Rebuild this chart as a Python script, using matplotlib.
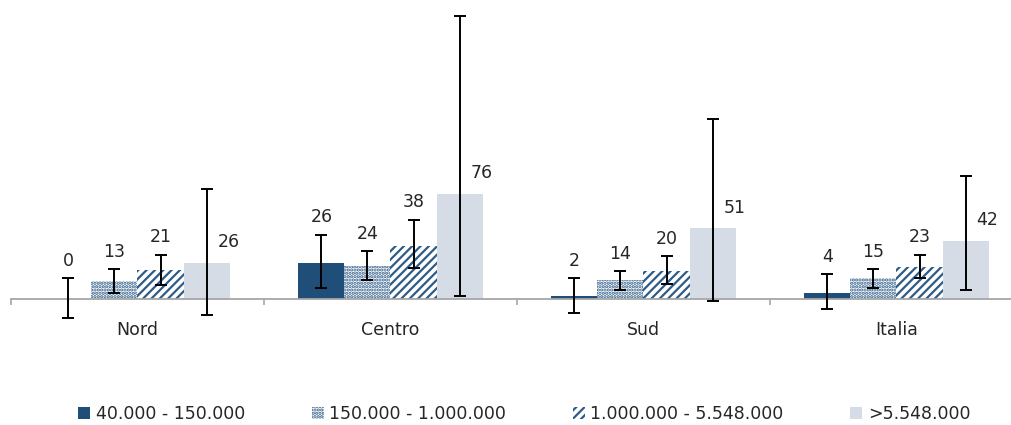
import numpy as np
import matplotlib.pyplot as plt
from matplotlib.ticker import FixedLocator

plt.rcParams['font.family'] = ['DejaVu Sans']
plt.rcParams['hatch.linewidth'] = 1.6

regions = ['Nord', 'Centro', 'Sud', 'Italia']
classes = ['40.000 - 150.000', '150.000 - 1.000.000', '1.000.000 - 5.548.000', '>5.548.000']

# mean values per population class
val_small = [0, 26, 2, 4]
val_medium = [13, 24, 14, 15]
val_large = [21, 38, 20, 23]
val_big = [26, 76, 51, 42]

# confidence interval bounds
low_small = [-13.9, 7.9, -10.3, -7.2]
high_small = [14.9, 46.4, 15.0, 18.0]
low_medium = [4.1, 13.7, 6.3, 7.7]
high_medium = [21.4, 34.7, 20.0, 21.4]
low_large = [10.1, 22.4, 10.6, 15.2]
high_large = [32.0, 57.3, 30.8, 32.0]
low_big = [-11.6, 1.9, -1.7, 6.7]
high_big = [79.2, 204.3, 129.7, 88.8]

values = [val_small, val_medium, val_large, val_big]
lows = [low_small, low_medium, low_large, low_big]
highs = [high_small, high_medium, high_large, high_big]

blue = '#1F4E79'
hatch_blue = '#2E5C88'
styles = [
    dict(color=blue),
    dict(facecolor='white', edgecolor=hatch_blue, hatch='.....', linewidth=0),
    dict(facecolor='white', edgecolor=hatch_blue, hatch='////', linewidth=0),
    dict(color='#D6DCE5'),
]
text_color = '#262626'
fs = 12.5

W, H = 1012, 425
fig = plt.figure(figsize=(W / 100, H / 100), dpi=100)
ax_left, ax_top, ax_bottom = 11, 5, 322
ax = fig.add_axes([ax_left / W, 1 - ax_bottom / H, 1 - ax_left / W, (ax_bottom - ax_top) / H])

base_px = 299
px_per_unit = 1.385
ax.set_ylim(-(ax_bottom - base_px) / px_per_unit, (base_px - ax_top) / px_per_unit)
ax.set_xlim(-0.5, -0.5 + (W - ax_left) / 253)

index = np.arange(len(regions))
bar_width = 0.182

for i in range(4):
    x = index + (i - 1.5) * bar_width
    vals = np.array(values[i])
    lo = np.array(lows[i])
    hi = np.array(highs[i])
    ax.bar(x, vals, bar_width, label=classes[i], zorder=2, **styles[i])
    ax.errorbar(x, vals, yerr=[vals - lo, hi - vals], fmt='none', ecolor='black',
                elinewidth=1.4, capsize=4, capthick=1.4, zorder=3)
    for j in range(len(regions)):
        if i < 3:
            ax.annotate(str(vals[j]), (x[j], hi[j]), xytext=(0, 12.5), textcoords='offset points',
                        ha='center', va='center', fontsize=fs, color=text_color)
        else:
            ax.annotate(str(vals[j]), (x[j] + 0.087, vals[j]), xytext=(0, 15), textcoords='offset points',
                        ha='center', va='center', fontsize=fs, color=text_color)

for s in ['top', 'right', 'left']:
    ax.spines[s].set_visible(False)
ax.spines['bottom'].set_position(('data', 0))
ax.spines['bottom'].set_color('#A6A6A6')
ax.spines['bottom'].set_linewidth(1.3)
ax.set_yticks([])

ax.set_xticks(index)
ax.set_xticklabels(regions, fontsize=fs, color=text_color)
ax.xaxis.set_minor_locator(FixedLocator(np.arange(-0.5, 4, 1.0)))
ax.tick_params(axis='x', which='major', length=0, pad=16)
ax.tick_params(axis='x', which='minor', length=4.5, width=1.2, color='#A6A6A6', direction='out')

fig.legend(loc='center', bbox_to_anchor=(0.518, 1 - 414 / H), ncol=4, frameon=False,
           fontsize=fs, handlelength=0.7, handleheight=0.7, handletextpad=0.3,
           columnspacing=3.85, labelcolor=text_color)

fig.savefig('out.png', dpi=100)
